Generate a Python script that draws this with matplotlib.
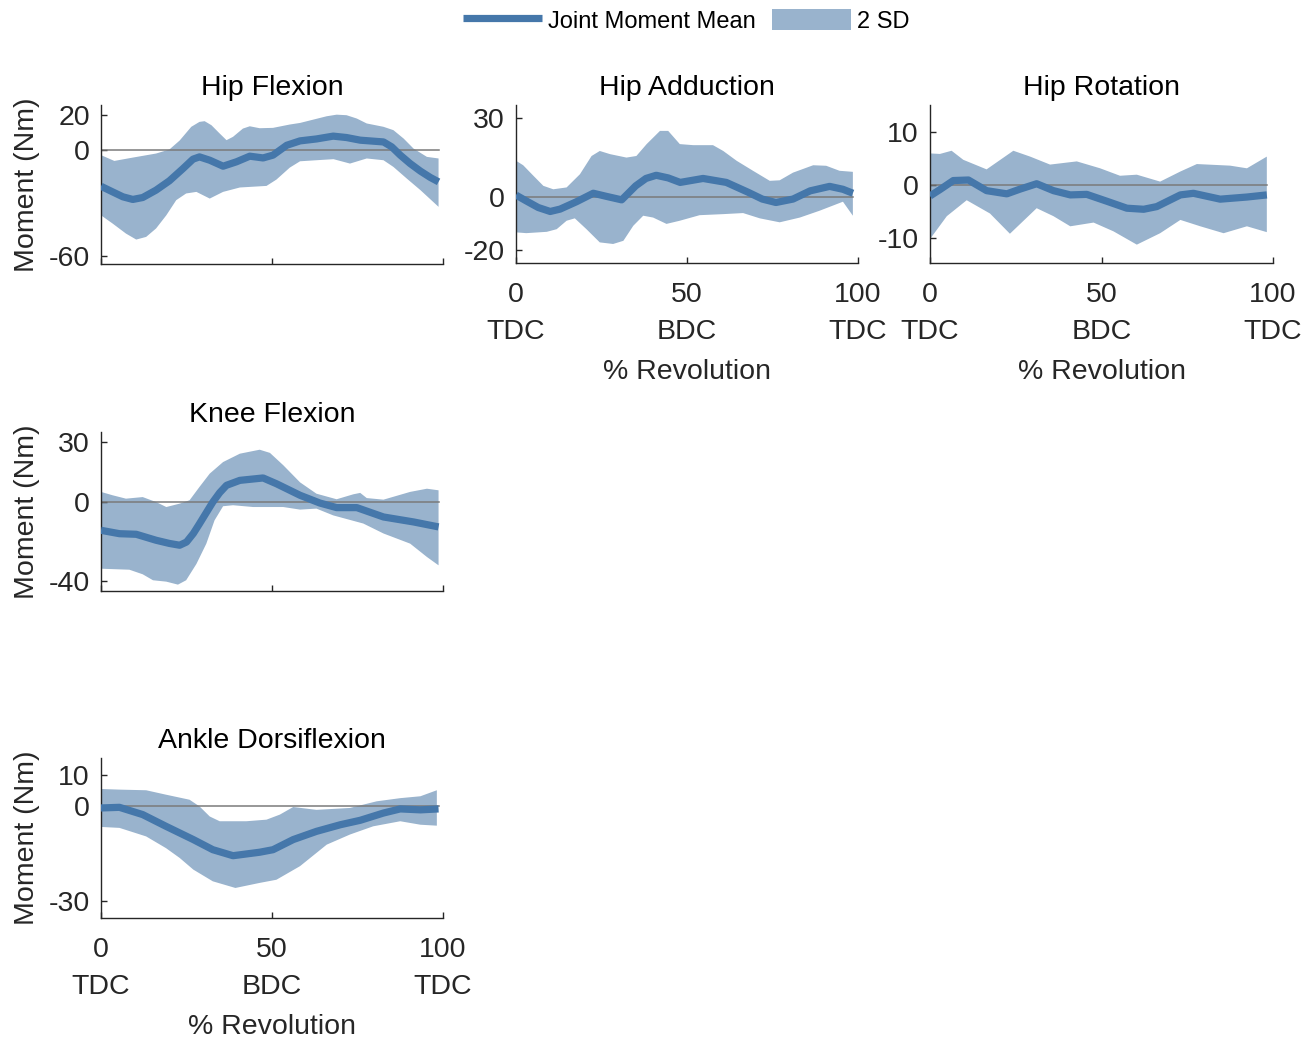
import numpy as np
import matplotlib
matplotlib.use('Agg')
import matplotlib.pyplot as plt
from matplotlib.lines import Line2D
from matplotlib.patches import Patch

plt.rcParams['font.family'] = ['Liberation Sans', 'DejaVu Sans']
plt.rcParams['axes.unicode_minus'] = False

# ---------------- data ----------------
titles = ['Hip Flexion', 'Hip Adduction', 'Hip Rotation', 'Knee Flexion', 'Ankle Dorsiflexion']
legend_labels = ['Joint Moment Mean', '2 SD']
x_ticks = [0, 50, 100]
x_tick_labels = ['0\nTDC', '50\nBDC', '100\nTDC']
x_label = '% Revolution'
y_label = 'Moment (Nm)'

# Hip Flexion
hf_mean_x = [0, 3.4, 6.4, 9.3, 12.2, 16.1, 20, 24, 26.9, 28.8, 31.8, 35.7, 39.6, 43.5, 47.4, 50.3, 54.3,
             58.2, 63, 67.9, 71.8, 75.8, 82.6, 85, 87.5, 90.4, 93.4, 96.3, 98.7]
hf_mean_y = [-20.5, -23.7, -26.5, -28, -26.9, -22.7, -17.4, -10.4, -5.1, -3.8, -5.7, -9.1, -6.6, -3.4, -4.4,
             -2.8, 2.8, 5.3, 6.4, 8, 7.2, 5.7, 4.7, 1.9, -2.8, -7.6, -11.9, -15.5, -18]
hf_up_x = [0, 3.9, 9.3, 16.1, 20, 23, 26.4, 28.8, 30.3, 32.3, 34.7, 36.7, 38.6, 41.5, 43.5, 46.4, 50.3, 55.2,
           58.2, 62.1, 66, 68.9, 71.8, 74.8, 77.7, 82.6, 85.5, 88.5, 91.4, 95.3, 98.7]
hf_up_y = [-2.8, -6.1, -4.2, -1.9, 0.4, 5.5, 13.3, 16.1, 16.5, 14.2, 9.5, 5.7, 7.6, 12.3, 13.6, 12.5, 12.7,
           14.6, 15.5, 17.4, 19.3, 20.2, 19.9, 18, 15.2, 13.3, 11.4, 6.6, 0.9, -3.8, -4.7]
hf_lo_x = [0, 3.4, 7.3, 10.3, 13.2, 16.1, 19.1, 22, 24.9, 27.9, 31.8, 35.7, 40.6, 48.4, 51.3, 55.2, 58.2, 63,
           68, 72.8, 77.7, 82.6, 85.5, 89.4, 93.4, 98.7]
hf_lo_y = [-37, -41.7, -47.4, -50.8, -49.3, -44.5, -37, -28.4, -24.6, -23.7, -27.5, -23.7, -21.2, -20.3, -16.7,
           -9.9, -6.3, -5.7, -5.1, -7.6, -4.7, -5.7, -9.5, -16.1, -22.7, -32.2]

# Hip Adduction
ha_mean_x = [0, 3, 6.5, 10, 12.9, 17.7, 22.6, 26.5, 30.9, 35, 38, 41, 44.5, 48, 54.7, 61.5, 68, 72, 76, 81,
             86, 91.7, 95.6, 98.5]
ha_mean_y = [0.9, -1.3, -3.8, -5.3, -4.4, -1.6, 1.6, 0.4, -0.9, 4.4, 7.2, 8.4, 7.4, 5.7, 7.2, 5.7, 1.9, -0.6,
             -1.9, -0.6, 2.5, 4.2, 3.1, 1.6]
ha_up_x = [0, 2.1, 5.1, 8, 10.9, 14.8, 18.7, 22.1, 24.5, 27.5, 32.3, 35.2, 38.2, 42.1, 44.5, 47.9, 51.8, 57.6,
           60.6, 64.5, 69.3, 74.2, 77.1, 81, 86.9, 90.7, 94.6, 98.5]
ha_up_y = [13.9, 12.2, 8.2, 4.4, 3.1, 3.8, 8.8, 15.7, 17.6, 16.4, 15.1, 15.7, 20.2, 25.2, 25.2, 20.2, 19.8,
           19.8, 17.6, 13.9, 10.1, 6.3, 6.5, 9.4, 12.2, 12, 10.1, 9.7]
ha_lo_x = [0, 3, 9, 11.9, 14.8, 17.2, 20.6, 24.5, 28.4, 31.4, 34.3, 37.2, 40.1, 44, 47.9, 53.7, 60.6, 66.4,
           71.3, 77.1, 83, 88.8, 95.6, 98.5]
ha_lo_y = [-13.2, -13.5, -13, -12, -8.8, -7.9, -12, -17, -17.6, -16.4, -10.7, -6.9, -7.6, -10, -8.8, -6.7,
           -6.3, -5.9, -7.9, -9.4, -7.6, -5, -1.6, -6.9]

# Hip Rotation
hr_mean_x = [0, 2.9, 6.8, 11.2, 16.5, 22.4, 26.3, 31.1, 36, 40.9, 45.7, 51.6, 57.4, 62.3, 66.1, 73, 76.8,
             84.6, 92.4, 98.2]
hr_mean_y = [-2.1, -0.9, 0.8, 0.9, -1.1, -1.7, -0.8, 0.2, -1.1, -1.9, -1.8, -3.1, -4.4, -4.6, -4.1, -1.9, -1.6,
             -2.7, -2.3, -1.9]
hr_up_x = [0, 2.9, 6.3, 9.7, 16.5, 24.3, 29.2, 35, 42.8, 49.6, 55.4, 60.3, 67.1, 73, 77.8, 87.5, 92.4, 98.2]
hr_up_y = [5.9, 5.8, 6.4, 4.7, 2.9, 6.4, 5.3, 3.8, 4.4, 3.1, 1.7, 1.9, 0.6, 2.5, 3.9, 3.6, 3.1, 5.3]
hr_lo_x = [0, 4.9, 10.7, 17.5, 23.3, 31.1, 36, 40.9, 47.7, 53.5, 60.3, 67.1, 73, 78.8, 85.6, 92.4, 98.2]
hr_lo_y = [-10.2, -5.9, -2.9, -5.4, -9.2, -4.4, -5.9, -7.8, -7.1, -8.75, -11.25, -9.1, -6.6, -7.8, -9.1, -7.8, -8.9]

# Knee Flexion
kf_mean_x = [0, 5.4, 10.3, 16.1, 20, 23, 25, 27, 28.8, 30.8, 32.7, 34.7, 36.7, 40.6, 47.4, 51.3, 58.2, 64,
             68.9, 74.8, 82.6, 91.4, 98.7]
kf_mean_y = [-14.4, -16.1, -16.4, -19.4, -21, -21.9, -20.3, -16, -11.1, -5.5, -0.2, 4.5, 8.2, 10.7, 11.9, 9,
             3.2, -0.7, -3, -3, -7.7, -10.2, -12.7]
kf_up_x = [0, 3.4, 7.3, 12.2, 16.1, 19.1, 23, 25.9, 28.8, 31.8, 35.7, 40.6, 46.4, 49.4, 53.3, 58.2, 63, 68.9,
           73.8, 75.8, 77.7, 82.6, 90.4, 95.3, 98.7]
kf_up_y = [4.9, 3.2, 1.5, 2.3, -0.2, -2.7, -1, 0.7, 7.4, 14.1, 19.9, 24.1, 26.1, 24.5, 18.3, 9.7, 4, 1.2, 3.7,
           4.4, 1.8, 1, 4.9, 6.5, 5.7]
kf_lo_x = [0, 8.3, 12.2, 15.2, 19.1, 22.5, 24.9, 27.9, 30.8, 33.2, 35.7, 38.6, 44.5, 53.3, 58.2, 63, 67.9,
           76.7, 82.6, 90.4, 95.3, 98.7]
kf_lo_y = [-33.7, -34.2, -36.5, -39.5, -40.2, -41.7, -39.5, -31.3, -21.1, -9.4, -2.3, -1.8, -2.7, -2.7, -4,
           -3.5, -6.9, -11, -16, -21.1, -27.8, -32]

# Ankle Dorsiflexion
ad_mean_x = [0, 5.4, 12.2, 19, 27, 32.7, 38.6, 46.4, 50.3, 56.2, 63, 70, 75.8, 82.6, 87.5, 93.4, 98.7]
ad_mean_y = [-0.5, -0.3, -2.6, -6.3, -10.5, -13.7, -15.6, -14.5, -13.7, -10.5, -7.9, -5.8, -4.4, -2.1, -0.8,
             -1.1, -0.8]
ad_up_x = [0, 5.4, 13.2, 19, 25.9, 28.8, 31.8, 34.7, 42.5, 48.4, 52.3, 56.2, 63, 72.8, 80.6, 87.5, 93.4, 98.2]
ad_up_y = [5.5, 5.3, 5.1, 3.7, 2.1, 0, -3.2, -4.7, -4.7, -4.2, -2.6, -0.2, -1.1, -0.5, 1.6, 2.6, 3.2, 5.1]
ad_lo_x = [0, 5.4, 13.2, 19, 23, 27, 32.7, 39.3, 46.4, 51.3, 58.2, 66, 72.8, 79.6, 87.5, 93.4, 98.2]
ad_lo_y = [-6.5, -6.8, -9.5, -13.2, -16.3, -20, -23.7, -25.8, -24.2, -23.2, -18.9, -12.1, -8.9, -6.3, -4.7,
           -5.8, -6.1]

y_ticks = [[-60, 0, 20], [-20, 0, 30], [-10, 0, 10], [-40, 0, 30], [-30, 0, 10]]
y_lims = [(-64.7, 25.7), (-24.8, 35), (-14.7, 15), (-44.9, 35), (-35.3, 15.3)]

panels = [
    (hf_mean_x, hf_mean_y, hf_up_x, hf_up_y, hf_lo_x, hf_lo_y),
    (ha_mean_x, ha_mean_y, ha_up_x, ha_up_y, ha_lo_x, ha_lo_y),
    (hr_mean_x, hr_mean_y, hr_up_x, hr_up_y, hr_lo_x, hr_lo_y),
    (kf_mean_x, kf_mean_y, kf_up_x, kf_up_y, kf_lo_x, kf_lo_y),
    (ad_mean_x, ad_mean_y, ad_up_x, ad_up_y, ad_lo_x, ad_lo_y),
]

# ---------------- layout / style ----------------
W, H = 1311, 1037
boxes = [(101, 105, 443, 264), (516, 105, 858, 263), (930, 105, 1273, 263),
         (101, 432, 443, 591), (101, 758, 443, 918)]
show_xlabels = [False, True, True, False, True]
show_ylabel = [True, False, False, True, True]

line_c = '#4577AA'
fill_c = '#99B3CD'
axis_c = '#262626'

fig = plt.figure(figsize=(W / 100, H / 100), dpi=100)

for i, (mx, my, ux, uy, lx, ly) in enumerate(panels):
    x0, y0, x1, y1 = boxes[i]
    ax = fig.add_axes([x0 / W, 1 - y1 / H, (x1 - x0) / W, (y1 - y0) / H])
    poly_x = np.concatenate([ux, lx[::-1]])
    poly_y = np.concatenate([uy, ly[::-1]])
    ax.fill(poly_x, poly_y, color=fill_c, lw=0, zorder=1)
    ax.plot([mx[0], mx[-1]], [0, 0], color='#7a7a7a', lw=1.1, zorder=2)
    ax.plot(mx, my, color=line_c, lw=5.2, zorder=3, solid_capstyle='butt', solid_joinstyle='round')
    ax.set_xlim(0, 100)
    ax.set_ylim(*y_lims[i])
    ax.set_yticks(y_ticks[i])
    ax.set_xticks(x_ticks)
    if show_xlabels[i]:
        ax.set_xticklabels(x_tick_labels, linespacing=1.55)
        ax.set_xlabel(x_label, fontsize=20.5, color=axis_c, labelpad=10)
    else:
        ax.set_xticklabels([])
    if show_ylabel[i]:
        ax.set_ylabel(y_label, fontsize=20.5, color=axis_c, labelpad=6)
    ax.set_title(titles[i], fontsize=20.5, color='black', pad=7.5)
    for s in ['top', 'right']:
        ax.spines[s].set_visible(False)
    for s in ['left', 'bottom']:
        ax.spines[s].set_color(axis_c)
        ax.spines[s].set_linewidth(1.0)
    ax.tick_params(axis='both', direction='in', length=4, width=1, colors=axis_c, labelsize=20.5)
    ax.tick_params(axis='y', pad=8)
    ax.tick_params(axis='x', pad=13.5)

handles = [Line2D([], [], color=line_c, lw=5.2, solid_capstyle='butt'),
           Patch(facecolor=fill_c, edgecolor='none')]
fig.legend(handles, legend_labels, loc='center', bbox_to_anchor=(686 / W, 1 - 21 / H), ncol=2,
           frameon=False, fontsize=17, handlelength=3.35, handleheight=1.0, handletextpad=0.25,
           columnspacing=0.7)

fig.savefig('out.png', dpi=100)
